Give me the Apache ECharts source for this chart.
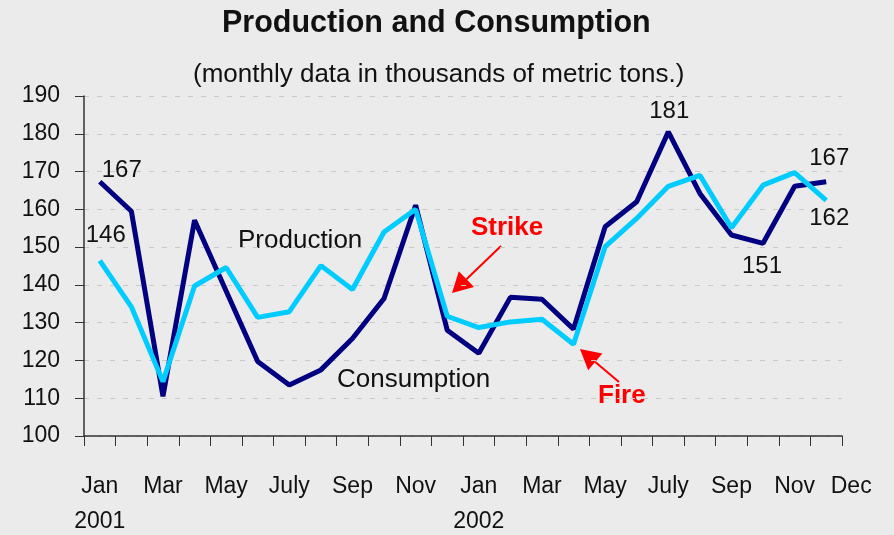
<!DOCTYPE html>
<html>
<head>
<meta charset="utf-8">
<script src="https://cdn.jsdelivr.net/npm/echarts@6/dist/echarts.min.js"></script>
<style>
  html, body { margin: 0; padding: 0; background: #ebebeb; }
  #chart { width: 894px; height: 535px; }
</style>
</head>
<body>
<div id="chart"></div>
<script>
const months = ['Jan', 'Feb', 'Mar', 'Apr', 'May', 'Jun', 'July', 'Aug', 'Sep', 'Oct', 'Nov', 'Dec',
                'Jan', 'Feb', 'Mar', 'Apr', 'May', 'Jun', 'July', 'Aug', 'Sep', 'Oct', 'Nov', 'Dec']
const years = { 0: '2001', 12: '2002' }

const consumption = [167.3, 159.5, 110.5, 157.1, 138.4, 119.7, 113.5, 117.5, 125.8, 136.4, 161.1, 128,
                     121.9, 136.7, 136.2, 128.3, 155.4, 162, 180.5, 164.2, 153.2, 151, 166.1, 167.3]
const production = [146.4, 134.2, 114.4, 139.7, 144.6, 131.4, 132.9, 145.1, 138.8, 154, 160, 131.7,
                    128.7, 130.2, 130.9, 124.3, 150.1, 157.6, 166.1, 169, 155.1, 166.4, 169.7, 162.4]

// which points carry a value label, and where it sits
const consLabels = { 0: ['top', [22, 6]], 18: ['top', [1, -4]], 21: ['bottom', [-1, 6]], 23: ['top', [3, -6]] }
const prodLabels = { 0: ['top', [6, -8]], 23: ['bottom', [3, 1]] }

const font = "'Liberation Sans', Arial, sans-serif"

function withLabels(values, labels) {
  return values.map((v, i) => {
    if (!labels[i]) return v
    return {
      value: v,
      label: {
        show: true, position: labels[i][0], offset: labels[i][1],
        formatter: () => Math.round(v), fontSize: 24, color: '#111', fontFamily: font
      }
    }
  })
}

function arrow(x1, y1, x2, y2) {
  const a = Math.atan2(y2 - y1, x2 - x1), L = 20, W = 11
  const bx = x2 - L * Math.cos(a), by = y2 - L * Math.sin(a)
  return [
    { type: 'line', shape: { x1: x1, y1: y1, x2: bx, y2: by }, style: { stroke: '#ff0000', lineWidth: 2 } },
    { type: 'polygon', shape: { points: [[x2, y2],
        [bx + W * Math.sin(a), by - W * Math.cos(a)],
        [bx - W * Math.sin(a), by + W * Math.cos(a)]] }, style: { fill: '#ff0000' } }
  ]
}

const labelStyle = { margin: 33, lineHeight: 35, fontSize: 23, color: '#111', fontFamily: font }

const myEcharts = echarts.init(document.getElementById('chart'))
myEcharts.setOption({
  backgroundColor: '#ebebeb',
  animation: false,
  title: [
    { text: 'Production and Consumption', left: 217, top: 3,
      textStyle: { fontSize: 30.5, fontWeight: 'bold', color: '#111', fontFamily: font } },
    { text: '(monthly data in thousands of metric tons.)', left: 188, top: 57,
      textStyle: { fontSize: 26, fontWeight: 'normal', color: '#111', fontFamily: font } }
  ],
  grid: { left: 84, right: 52, top: 96, bottom: 99, outerBoundsMode: 'none', containLabel: false },
  xAxis: [{
    type: 'category',
    data: months,
    boundaryGap: true,
    axisLine: { lineStyle: { color: '#333', width: 1.5 } },
    axisTick: { show: true, interval: 0, length: 10, lineStyle: { color: '#333' } },
    axisLabel: Object.assign({
      interval: (i) => i % 2 === 0,
      formatter: (v, i) => years[i] ? v + '\n' + years[i] : v
    }, labelStyle),
    splitLine: { show: false }
  }, {
    // carries only the end label "Dec", set off to the right like the original
    type: 'category',
    data: months,
    position: 'bottom',
    axisLine: { show: false },
    axisTick: { show: false },
    axisLabel: Object.assign({
      interval: (i) => i === 23,
      formatter: (v) => '{d|' + v + '}',
      rich: { d: { padding: [0, 0, 0, 50], fontSize: 23, color: '#111', fontFamily: font } }
    }, labelStyle),
    splitLine: { show: false }
  }],
  yAxis: {
    type: 'value',
    min: 100, max: 190, interval: 10,
    axisLine: { show: true, lineStyle: { color: '#333', width: 1.5 } },
    axisTick: { show: true, length: 9, lineStyle: { color: '#333' } },
    axisLabel: { margin: 24, fontSize: 23, color: '#111', fontFamily: font },
    splitLine: { lineStyle: { color: '#c8c8c8', type: [5, 8], width: 1 } }
  },
  series: [
    { name: 'Consumption', type: 'line', data: withLabels(consumption, consLabels),
      symbol: 'circle', symbolSize: 0, showSymbol: true,
      lineStyle: { color: '#000080', width: 5 }, itemStyle: { color: '#000080' }, z: 2 },
    { name: 'Production', type: 'line', data: withLabels(production, prodLabels),
      symbol: 'circle', symbolSize: 0, showSymbol: true,
      lineStyle: { color: '#00ccff', width: 5 }, itemStyle: { color: '#00ccff' }, z: 3 }
  ],
  graphic: [
    { type: 'text', left: 238, top: 228, style: { text: 'Production', fontSize: 26, fill: '#111', fontFamily: font } },
    { type: 'text', left: 337, top: 367, style: { text: 'Consumption', fontSize: 26, fill: '#111', fontFamily: font } },
    { type: 'text', left: 471, top: 215, style: { text: 'Strike', fontSize: 26, fontWeight: 'bold', fill: '#ff0000', fontFamily: font } },
    { type: 'text', left: 598, top: 383, style: { text: 'Fire', fontSize: 26, fontWeight: 'bold', fill: '#ff0000', fontFamily: font } },
    ...arrow(501, 246, 452, 293),
    ...arrow(619, 382, 580, 349)
  ]
})
</script>
</body>
</html>
